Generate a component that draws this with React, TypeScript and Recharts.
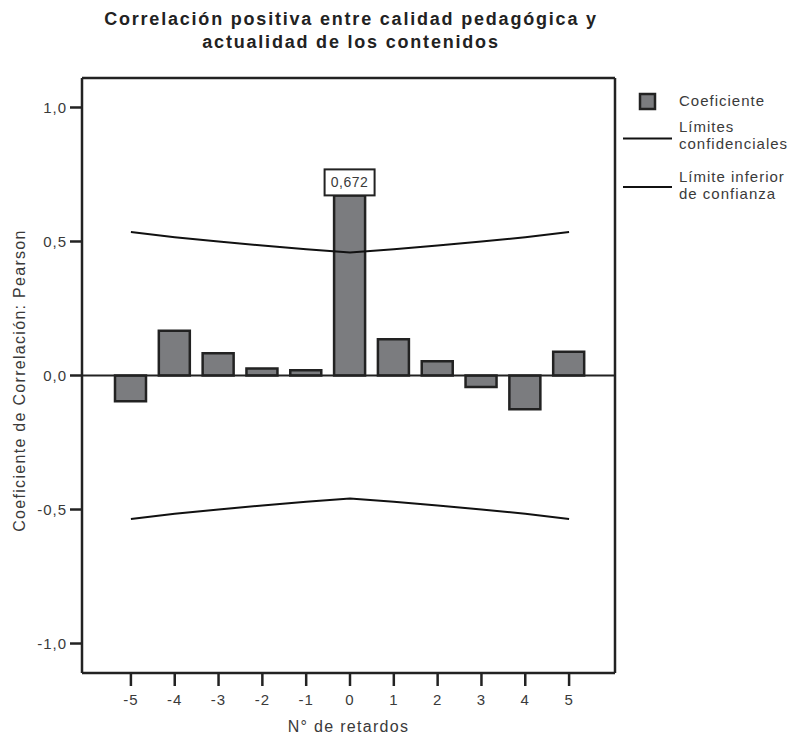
import { Bar, ComposedChart, LabelList, Line, ReferenceLine, XAxis, YAxis } from 'recharts'

// lags (N° de retardos) and values
const lags = ['-5', '-4', '-3', '-2', '-1', '0', '1', '2', '3', '4', '5']
const coefficients = [-0.096, 0.167, 0.083, 0.026, 0.02, 0.672, 0.135, 0.053, -0.043, -0.126, 0.089]
const upperLimit = [0.535, 0.516, 0.5, 0.485, 0.471, 0.459, 0.471, 0.485, 0.5, 0.516, 0.535]
const lowerLimit = [-0.535, -0.516, -0.5, -0.485, -0.471, -0.459, -0.471, -0.485, -0.5, -0.516, -0.535]
const yTicks = [-1, -0.5, 0, 0.5, 1]

const titleLines = ['Correlación positiva entre calidad pedagógica y', 'actualidad de los contenidos']

const data = lags.map((lag, i) => ({
  lag,
  coef: coefficients[i],
  upper: upperLimit[i],
  lower: lowerLimit[i],
}))

const INK = '#222'
const TEXT = '#3a3a3a'
const BAR_FILL = '#7b7c7f'
const FONT = '"Liberation Sans", Arial, sans-serif'

const fmt = (v: number, digits: number) => v.toFixed(digits).replace('.', ',')

// boxed value label, only on the highest bar
const PeakLabel = (props: any) => {
  const { x, y, width, value } = props
  if (value !== Math.max(...coefficients)) return null
  const cx = Number(x) + Number(width) / 2
  const top = Number(y)
  return (
    <g>
      <rect x={cx - 25} y={top - 26} width={50} height={26} fill="#fff" stroke={INK} strokeWidth={2} />
      <text x={cx} y={top - 8} textAnchor="middle" fontSize={14} fill={TEXT} fontFamily={FONT} letterSpacing={0.5}>
        {fmt(value, 3)}
      </text>
    </g>
  )
}

const YTitle = (props: any) => {
  const { viewBox } = props
  const cy = viewBox.y + viewBox.height / 2 + 5
  return (
    <text
      x={25}
      y={cy}
      transform={`rotate(-90 25 ${cy})`}
      textAnchor="middle"
      fontSize={16}
      fill={TEXT}
      fontFamily={FONT}
      letterSpacing={1.3}
    >
      Coeficiente de Correlación: Pearson
    </text>
  )
}

export default function App() {
  const tickStyle = { fontSize: 15, fill: TEXT, fontFamily: FONT, letterSpacing: 1 }
  return (
    <div style={{ position: 'relative', width: 796, height: 739, marginLeft: -8, marginTop: -8, background: '#fff' }}>
      <ComposedChart width={796} height={739} data={data} margin={{ top: 77, right: 180, bottom: 0, left: 0 }}>
        <XAxis
          dataKey="lag"
          type="category"
          padding={{ left: 27, right: 24 }}
          height={66}
          tickSize={13}
          tickMargin={8}
          tick={tickStyle}
          tickLine={{ stroke: INK, strokeWidth: 2.5 }}
          axisLine={{ stroke: INK, strokeWidth: 2.5 }}
          label={{ value: 'N° de retardos', position: 'insideBottom', offset: 7, fontSize: 16, fill: TEXT, fontFamily: FONT, letterSpacing: 1.3 }}
        />
        <XAxis
          xAxisId="top"
          dataKey="lag"
          orientation="top"
          padding={{ left: 27, right: 24 }}
          height={1}
          tick={false}
          tickLine={false}
          axisLine={{ stroke: INK, strokeWidth: 2.5 }}
        />
        <YAxis
          domain={[-1.11, 1.11]}
          ticks={yTicks}
          width={82}
          tickSize={12}
          tickMargin={3}
          tick={tickStyle}
          tickFormatter={(v: number) => fmt(v, 1)}
          tickLine={{ stroke: INK, strokeWidth: 2.5 }}
          axisLine={{ stroke: INK, strokeWidth: 2.5 }}
          label={<YTitle />}
        />
        <YAxis
          yAxisId="right"
          orientation="right"
          domain={[-1.11, 1.11]}
          width={1}
          tick={false}
          tickLine={false}
          axisLine={{ stroke: INK, strokeWidth: 2.5 }}
        />
        <ReferenceLine y={0} stroke={INK} strokeWidth={2} />
        <Bar dataKey="coef" barSize={31} fill={BAR_FILL} stroke={INK} strokeWidth={2.5} isAnimationActive={false}>
          <LabelList dataKey="coef" content={<PeakLabel />} />
        </Bar>
        <Line type="linear" dataKey="upper" stroke="#111" strokeWidth={2} dot={false} isAnimationActive={false} />
        <Line type="linear" dataKey="lower" stroke="#111" strokeWidth={2} dot={false} isAnimationActive={false} />
        {/* invisible series tied to the frame axes so they get drawn */}
        <Line
          xAxisId="top"
          yAxisId="right"
          dataKey="coef"
          stroke="none"
          dot={false}
          activeDot={false}
          legendType="none"
          isAnimationActive={false}
        />
      </ComposedChart>

      {/* title and legend */}
      <svg width={796} height={739} style={{ position: 'absolute', left: 0, top: 0, pointerEvents: 'none' }}>
        {titleLines.map((line, i) => (
          <text
            key={line}
            x={351}
            y={25 + i * 23}
            textAnchor="middle"
            fontSize={18}
            fontWeight="bold"
            fill={INK}
            fontFamily={FONT}
            letterSpacing={1.8}
          >
            {line}
          </text>
        ))}
        <g fontFamily={FONT} fontSize={15} fill={TEXT} letterSpacing={1}>
          <rect x={640} y={94} width={15} height={15} fill={BAR_FILL} stroke={INK} strokeWidth={2.5} />
          <text x={679} y={106}>Coeficiente</text>
          <line x1={623} x2={672} y1={138.5} y2={138.5} stroke="#111" strokeWidth={2} />
          <text x={679} y={132}>Límites</text>
          <text x={679} y={149}>confidenciales</text>
          <line x1={623} x2={672} y1={187} y2={187} stroke="#111" strokeWidth={2} />
          <text x={679} y={182}>Límite inferior</text>
          <text x={679} y={199}>de confianza</text>
        </g>
      </svg>
    </div>
  )
}
